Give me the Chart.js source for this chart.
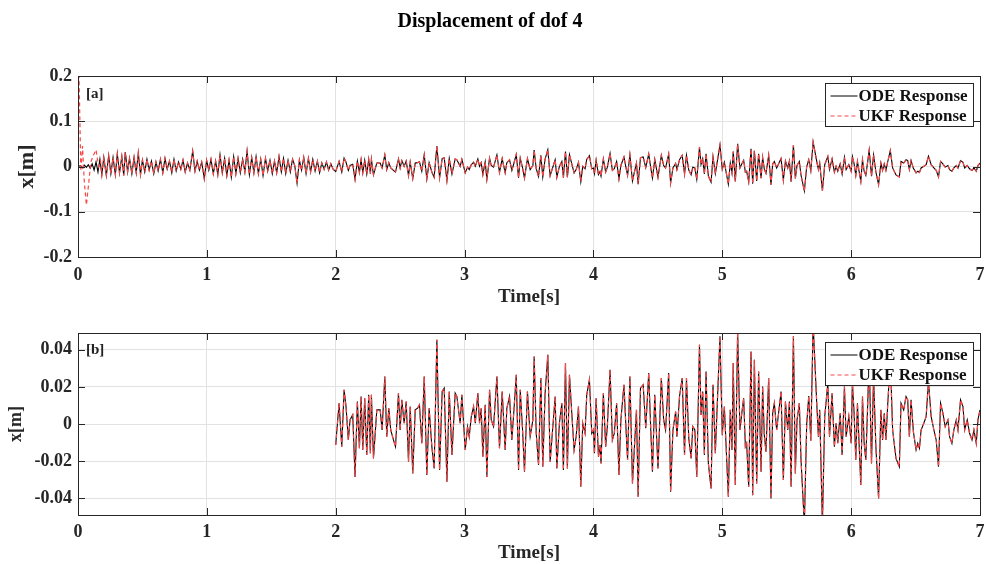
<!DOCTYPE html>
<html>
<head>
<meta charset="utf-8">
<script src="https://cdn.jsdelivr.net/npm/chart.js@4.4.0/dist/chart.umd.min.js"></script>
<style>
  html, body { margin: 0; padding: 0; background: #fff; }
  #wrap { position: relative; width: 986px; height: 564px; }
  canvas { position: absolute; left: 0; }
  #top-chart { top: 0; }
  #bottom-chart { top: 310px; }
</style>
</head>
<body>
<div id="wrap">
  <canvas id="top-chart" width="986" height="310"></canvas>
  <canvas id="bottom-chart" width="986" height="254"></canvas>
</div>
<script>
// displacement of dof 4 - ODE vs UKF

// first two seconds (only shown in panel a)
const earlyTime = [
  0.000, 0.020, 0.035, 0.050, 0.065, 0.080, 0.095, 0.110, 0.125, 0.140,
  0.155, 0.170, 0.185, 0.200, 0.220, 0.238, 0.255, 0.272, 0.290, 0.305,
  0.322, 0.340, 0.355, 0.367, 0.385, 0.400, 0.418, 0.435, 0.452, 0.468,
  0.485, 0.500, 0.518, 0.535, 0.552, 0.570, 0.588, 0.605, 0.622, 0.640,
  0.658, 0.675, 0.692, 0.710, 0.728, 0.745, 0.762, 0.780, 0.798, 0.815,
  0.832, 0.850, 0.868, 0.890, 0.908, 0.925, 0.942, 0.960, 0.980, 0.998,
  1.015, 1.032, 1.050, 1.068, 1.085, 1.102, 1.120, 1.138, 1.155, 1.172,
  1.190, 1.208, 1.225, 1.242, 1.260, 1.278, 1.295, 1.312, 1.330, 1.348,
  1.365, 1.382, 1.400, 1.418, 1.436, 1.455, 1.472, 1.490, 1.508, 1.525,
  1.542, 1.560, 1.578, 1.595, 1.612, 1.630, 1.648, 1.665, 1.682, 1.700,
  1.718, 1.735, 1.752, 1.770, 1.788, 1.805, 1.822, 1.840, 1.858, 1.875,
  1.892, 1.910, 1.928, 1.945, 1.962, 1.980
];
const earlyOde = [
  0.000, 0.002, -0.003, 0.003, -0.002, 0.004, -0.004, 0.006, -0.008, 0.010,
  -0.012, 0.016, -0.018, 0.020, -0.020, 0.024, -0.016, 0.020, -0.018, 0.028,
  -0.014, 0.022, -0.020, 0.032, -0.012, 0.018, -0.016, 0.020, -0.014, 0.030,
  -0.018, 0.014, -0.012, 0.016, -0.008, 0.012, -0.016, 0.010, -0.010, 0.016,
  -0.014, 0.018, -0.006, 0.012, -0.014, 0.016, -0.010, 0.010, -0.006, 0.014,
  -0.012, 0.008, -0.008, 0.034, -0.010, 0.012, -0.008, 0.010, -0.027, 0.014,
  -0.008, 0.016, -0.016, 0.012, -0.018, 0.026, -0.014, 0.018, -0.020, 0.014,
  -0.024, 0.022, -0.016, 0.018, -0.014, 0.016, -0.012, 0.034, -0.018, 0.020,
  -0.014, 0.022, -0.016, 0.016, -0.020, 0.018, -0.010, 0.014, -0.016, 0.012,
  -0.014, 0.022, -0.012, 0.018, -0.016, 0.014, -0.012, 0.016, 0.002, -0.037,
  0.014, -0.008, 0.020, -0.016, 0.018, -0.012, 0.016, -0.010, 0.012, -0.014,
  0.008, -0.006, 0.010, -0.008, 0.006, -0.006
];

// 2 s to 7 s (both panels)
const lateTime = [
  2.000, 2.026, 2.047, 2.065, 2.080, 2.098, 2.111, 2.132, 2.150, 2.168,
  2.184, 2.197, 2.210, 2.225, 2.241, 2.256, 2.269, 2.277, 2.293, 2.319,
  2.345, 2.360, 2.381, 2.396, 2.412, 2.427, 2.448, 2.464, 2.487, 2.500,
  2.513, 2.531, 2.547, 2.565, 2.578, 2.598, 2.617, 2.635, 2.650, 2.668,
  2.687, 2.707, 2.725, 2.746, 2.764, 2.785, 2.806, 2.826, 2.842, 2.863,
  2.881, 2.902, 2.927, 2.940, 2.966, 2.979, 3.005, 3.023, 3.036, 3.052,
  3.070, 3.083, 3.103, 3.116, 3.129, 3.142, 3.160, 3.173, 3.194, 3.207,
  3.225, 3.251, 3.271, 3.292, 3.315, 3.328, 3.349, 3.367, 3.385, 3.401,
  3.419, 3.432, 3.450, 3.465, 3.488, 3.509, 3.530, 3.540, 3.556, 3.574,
  3.592, 3.607, 3.625, 3.646, 3.664, 3.703, 3.716, 3.736, 3.755, 3.767,
  3.783, 3.798, 3.814, 3.832, 3.850, 3.866, 3.884, 3.902, 3.917, 3.935,
  3.948, 3.969, 3.987, 4.000, 4.008, 4.021, 4.039, 4.051, 4.059, 4.077,
  4.095, 4.108, 4.129, 4.147, 4.162, 4.180, 4.198, 4.213, 4.237, 4.252,
  4.265, 4.283, 4.303, 4.321, 4.334, 4.347, 4.365, 4.386, 4.406, 4.429,
  4.445, 4.458, 4.476, 4.501, 4.527, 4.545, 4.560, 4.584, 4.599, 4.617,
  4.638, 4.648, 4.668, 4.689, 4.707, 4.722, 4.740, 4.758, 4.771, 4.787,
  4.802, 4.823, 4.835, 4.848, 4.861, 4.874, 4.892, 4.913, 4.928, 4.946,
  4.964, 4.982, 5.000, 5.016, 5.047, 5.062, 5.075, 5.085, 5.101, 5.119,
  5.137, 5.153, 5.166, 5.179, 5.189, 5.205, 5.223, 5.236, 5.249, 5.267,
  5.282, 5.301, 5.313, 5.326, 5.339, 5.360, 5.378, 5.391, 5.404, 5.422,
  5.456, 5.474, 5.490, 5.508, 5.521, 5.534, 5.552, 5.567, 5.580, 5.598,
  5.611, 5.637, 5.655, 5.671, 5.687, 5.705, 5.733, 5.746, 5.756, 5.777,
  5.795, 5.819, 5.832, 5.852, 5.870, 5.883, 5.896, 5.915, 5.930, 5.948,
  5.961, 5.982, 6.000, 6.010, 6.023, 6.036, 6.049, 6.062, 6.075, 6.088,
  6.101, 6.114, 6.127, 6.140, 6.158, 6.174, 6.192, 6.213, 6.231, 6.244,
  6.257, 6.270, 6.283, 6.304, 6.322, 6.348, 6.374, 6.387, 6.408, 6.426,
  6.439, 6.452, 6.465, 6.483, 6.504, 6.517, 6.530, 6.543, 6.564, 6.582,
  6.600, 6.621, 6.642, 6.660, 6.678, 6.694, 6.712, 6.730, 6.751, 6.764,
  6.782, 6.797, 6.816, 6.829, 6.849, 6.868, 6.881, 6.901, 6.919, 6.938,
  6.953, 6.971, 6.984, 7.000
];
const lateOde = [
  -0.0113, 0.0112, -0.0122, 0.0184, 0.0094, -0.0086, 0.0022, 0.0049, -0.0285, 0.0121,
  -0.0131, 0.0148, -0.0140, 0.0139, -0.0167, 0.0157, -0.0158, 0.0157, -0.0185, 0.0076,
  0.0076, -0.0032, 0.0256, -0.0068, 0.0085, -0.0032, -0.0086, -0.0122, 0.0166, -0.0032,
  0.0130, 0.0004, 0.0121, -0.0203, 0.0094, -0.0266, 0.0076, 0.0085, 0.0103, -0.0104,
  0.0256, -0.0275, 0.0085, -0.0122, -0.0239, 0.0454, -0.0248, 0.0175, 0.0193, -0.0311,
  0.0175, -0.0167, 0.0166, 0.0148, 0.0004, 0.0157, -0.0140, -0.0014, -0.0068, 0.0040,
  0.0094, 0.0004, 0.0166, 0.0004, 0.0085, -0.0176, 0.0103, -0.0285, 0.0184, 0.0022,
  -0.0014, 0.0256, -0.0131, 0.0175, -0.0140, 0.0085, 0.0148, -0.0086, 0.0094, 0.0265,
  -0.0248, 0.0184, -0.0032, -0.0257, 0.0175, -0.0068, 0.0022, 0.0364, -0.0050, -0.0221,
  0.0247, -0.0230, 0.0166, 0.0373, -0.0203, 0.0148, -0.0239, 0.0004, 0.0112, -0.0248,
  0.0328, -0.0239, 0.0265, 0.0058, -0.0140, -0.0068, 0.0094, -0.0338, 0.0004, -0.0050,
  0.0157, 0.0238, -0.0050, -0.0032, -0.0158, 0.0139, -0.0176, -0.0113, -0.0212, 0.0166,
  -0.0122, -0.0014, 0.0292, -0.0086, -0.0050, 0.0112, -0.0275, 0.0022, 0.0211, -0.0014,
  -0.0194, 0.0256, -0.0320, -0.0086, 0.0076, -0.0392, 0.0193, 0.0211, -0.0023, 0.0274,
  -0.0032, -0.0257, 0.0157, -0.0239, 0.0247, 0.0022, -0.0032, 0.0274, -0.0365, -0.0032,
  0.0067, -0.0068, 0.0148, 0.0247, -0.0167, 0.0247, -0.0077, -0.0185, -0.0014, -0.0032,
  -0.0285, 0.0427, 0.0049, 0.0175, -0.0167, 0.0283, -0.0212, -0.0347, 0.0211, -0.0158,
  0.0157, 0.0472, -0.0060, 0.0094, -0.0392, 0.0076, -0.0140, 0.0328, -0.0329, 0.0500,
  -0.0032, 0.0067, 0.0139, -0.0122, -0.0104, -0.0338, 0.0391, -0.0383, 0.0346, -0.0320,
  0.0283, -0.0257, 0.0202, -0.0059, -0.0149, 0.0247, -0.0401, 0.0058, 0.0112, -0.0032,
  0.0175, -0.0302, 0.0121, -0.0032, 0.0121, -0.0338, 0.0472, -0.0266, 0.0022, 0.0112,
  -0.0194, -0.0540, 0.0000, 0.0150, -0.0090, 0.0540, 0.0112, -0.0068, 0.0076, -0.0540,
  0.0040, 0.0220, -0.0068, 0.0166, -0.0122, 0.0004, -0.0104, 0.0058, -0.0167, 0.0202,
  -0.0068, 0.0040, -0.0104, 0.0220, 0.0058, -0.0194, 0.0112, -0.0113, -0.0329, 0.0148,
  -0.0104, -0.0194, 0.0076, 0.0360, -0.0212, 0.0256, -0.0122, -0.0401, 0.0076, -0.0086,
  0.0058, -0.0086, 0.0094, 0.0350, -0.0032, -0.0185, -0.0230, 0.0112, 0.0076, 0.0148,
  0.0130, -0.0068, 0.0130, -0.0041, -0.0140, -0.0104, -0.0131, -0.0032, 0.0004, 0.0040,
  0.0230, 0.0040, -0.0032, -0.0086, -0.0230, 0.0112, 0.0058, -0.0014, 0.0022, -0.0068,
  -0.0104, -0.0032, 0.0022, -0.0032, 0.0130, 0.0094, -0.0032, 0.0022, -0.0050, -0.0086,
  -0.0032, -0.0104, 0.0022, 0.0076
];
// the UKF estimate starts off and converges to the ODE response after ~0.18 s
const ukfStartTime = [0.000, 0.008, 0.022, 0.035, 0.048, 0.065, 0.082, 0.100, 0.120, 0.140, 0.160, 0.175];
const ukfStartValue = [0.150, 0.200, -0.010, 0.045, -0.030, -0.085, -0.040, 0.010, 0.025, 0.037, 0.000, 0.012];

const xTicks = [0, 1, 2, 3, 4, 5, 6, 7];
const topYTicks = [-0.2, -0.1, 0, 0.1, 0.2];
const bottomYTicks = [-0.04, -0.02, 0, 0.02, 0.04];
const legendLabels = ["ODE Response", "UKF Response"];

const serif = '"Liberation Serif", "Times New Roman", serif';
const odeColor = "#000000";
const ukfColor = "#ff4545";

function toPoints(ts, vs) {
    return ts.map((t, i) => ({ x: t, y: vs[i] }));
}

const topOde = toPoints(earlyTime.concat(lateTime), earlyOde.concat(lateOde));
const lateOdePts = toPoints(lateTime, lateOde);
const ukfTop = toPoints(ukfStartTime, ukfStartValue)
    .concat(topOde.filter(p => p.x > ukfStartTime[ukfStartTime.length - 1]));

// matlab-ish box, inward ticks, legend and panel tag
const axesBox = {
    id: "axesBox",
    afterDatasetsDraw(chart, args, opts) {
        const { ctx, chartArea: a, scales } = chart;
        ctx.save();
        ctx.strokeStyle = "#262626";
        ctx.lineWidth = 1;
        ctx.beginPath();
        scales.x.ticks.forEach(t => {
            const px = Math.round(scales.x.getPixelForValue(t.value)) + 0.5;
            ctx.moveTo(px, a.bottom); ctx.lineTo(px, a.bottom - 7);
            ctx.moveTo(px, a.top); ctx.lineTo(px, a.top + 7);
        });
        scales.y.ticks.forEach(t => {
            const py = Math.round(scales.y.getPixelForValue(t.value)) + 0.5;
            ctx.moveTo(a.left, py); ctx.lineTo(a.left + 7, py);
            ctx.moveTo(a.right, py); ctx.lineTo(a.right - 7, py);
        });
        ctx.stroke();
        ctx.strokeRect(Math.round(a.left) + 0.5, Math.round(a.top) + 0.5,
            Math.round(a.right - a.left), Math.round(a.bottom - a.top));

        // panel tag
        ctx.fillStyle = "#222";
        ctx.textBaseline = "middle";
        ctx.font = "bold 15px " + serif;
        ctx.fillText(opts.tag, a.left + 8, a.top + opts.tagY);

        // legend
        const bw = 148, bh = 43;
        const bx = Math.round(a.right - 7 - bw) + 0.5;
        const by = Math.round(a.top + opts.legendY) + 0.5;
        ctx.fillStyle = "#fff";
        ctx.fillRect(bx, by, bw, bh);
        ctx.strokeStyle = "#262626";
        ctx.strokeRect(bx, by, bw, bh);
        ctx.font = "bold 17px " + serif;
        legendLabels.forEach((label, i) => {
            const ly = by + 12.5 + i * 20;
            ctx.beginPath();
            ctx.strokeStyle = i === 0 ? odeColor : ukfColor;
            ctx.setLineDash(i === 0 ? [] : [4, 3]);
            ctx.moveTo(bx + 5, ly);
            ctx.lineTo(bx + 32, ly);
            ctx.stroke();
            ctx.setLineDash([]);
            ctx.fillStyle = "#111";
            ctx.fillText(label, bx + 33, ly + 1);
        });
        ctx.restore();
    }
};

function makeOptions(cfg) {
    return {
        responsive: false,
        animation: false,
        devicePixelRatio: 1,
        layout: { padding: { left: 0, right: 6, top: cfg.padTop, bottom: 0 } },
        plugins: {
            legend: { display: false },
            tooltip: { enabled: false },
            title: cfg.title ? {
                display: true,
                text: cfg.title,
                color: "#000",
                font: { family: serif, size: 20, weight: "bold" },
                padding: { top: 10, bottom: 42 }
            } : { display: false },
            axesBox: { tag: cfg.tag, tagY: cfg.tagY, legendY: cfg.legendY }
        },
        scales: {
            x: {
                type: "linear",
                min: 0,
                max: 7,
                afterBuildTicks: s => { s.ticks = xTicks.map(v => ({ value: v })); },
                afterFit: s => { s.height = cfg.xHeight; s.paddingRight = 0; },
                grid: { color: "#e2e2e2", drawTicks: false },
                border: { display: false },
                ticks: {
                    color: "#262626",
                    padding: cfg.xTickPad,
                    maxRotation: 0,
                    font: { family: serif, size: 18, weight: "bold" },
                    callback: v => String(v)
                },
                title: {
                    display: true,
                    text: "Time[s]",
                    color: "#262626",
                    font: { family: serif, size: 19, weight: "bold" },
                    padding: { top: 0, bottom: cfg.xTitlePad }
                }
            },
            y: {
                min: cfg.yMin,
                max: cfg.yMax,
                afterBuildTicks: s => { s.ticks = cfg.yTicks.map(v => ({ value: v })); },
                afterFit: s => { s.width = 78; },
                grid: { color: "#e2e2e2", drawTicks: false },
                border: { display: false },
                ticks: {
                    color: "#262626",
                    padding: 6,
                    font: { family: serif, size: 18, weight: "bold" },
                    callback: v => String(v)
                },
                title: {
                    display: true,
                    text: "x[m]",
                    color: "#262626",
                    font: { family: serif, size: cfg.yTitleSize, weight: "bold" },
                    padding: { top: cfg.yTitlePad, bottom: 0 }
                }
            }
        }
    };
}

function makeDatasets(odePts, ukfPts) {
    return [
        {
            label: legendLabels[1],
            data: ukfPts,
            borderColor: ukfColor,
            borderWidth: 1.2,
            borderDash: [4, 3],
            pointRadius: 0,
            tension: 0
        },
        {
            label: legendLabels[0],
            data: odePts,
            borderColor: odeColor,
            borderWidth: 1.1,
            pointRadius: 0,
            tension: 0
        }
    ];
}

new Chart(document.getElementById("top-chart"), {
    type: "line",
    data: { datasets: makeDatasets(topOde, ukfTop) },
    options: makeOptions({
        title: "Displacement of dof 4",
        padTop: 0,
        tag: "[a]", tagY: 18, legendY: 6.5,
        xHeight: 53, xTickPad: 8, xTitlePad: 2,
        yMin: -0.2, yMax: 0.2, yTicks: topYTicks,
        yTitleSize: 22, yTitlePad: 14
    }),
    plugins: [axesBox]
});

new Chart(document.getElementById("bottom-chart"), {
    type: "line",
    data: { datasets: makeDatasets(lateOdePts, lateOdePts) },
    options: makeOptions({
        title: null,
        padTop: 23,
        tag: "[b]", tagY: 17, legendY: 8.5,
        xHeight: 49, xTickPad: 7, xTitlePad: 0,
        yMin: -0.049, yMax: 0.049, yTicks: bottomYTicks,
        yTitleSize: 18, yTitlePad: 6
    }),
    plugins: [axesBox]
});
</script>
</body>
</html>
